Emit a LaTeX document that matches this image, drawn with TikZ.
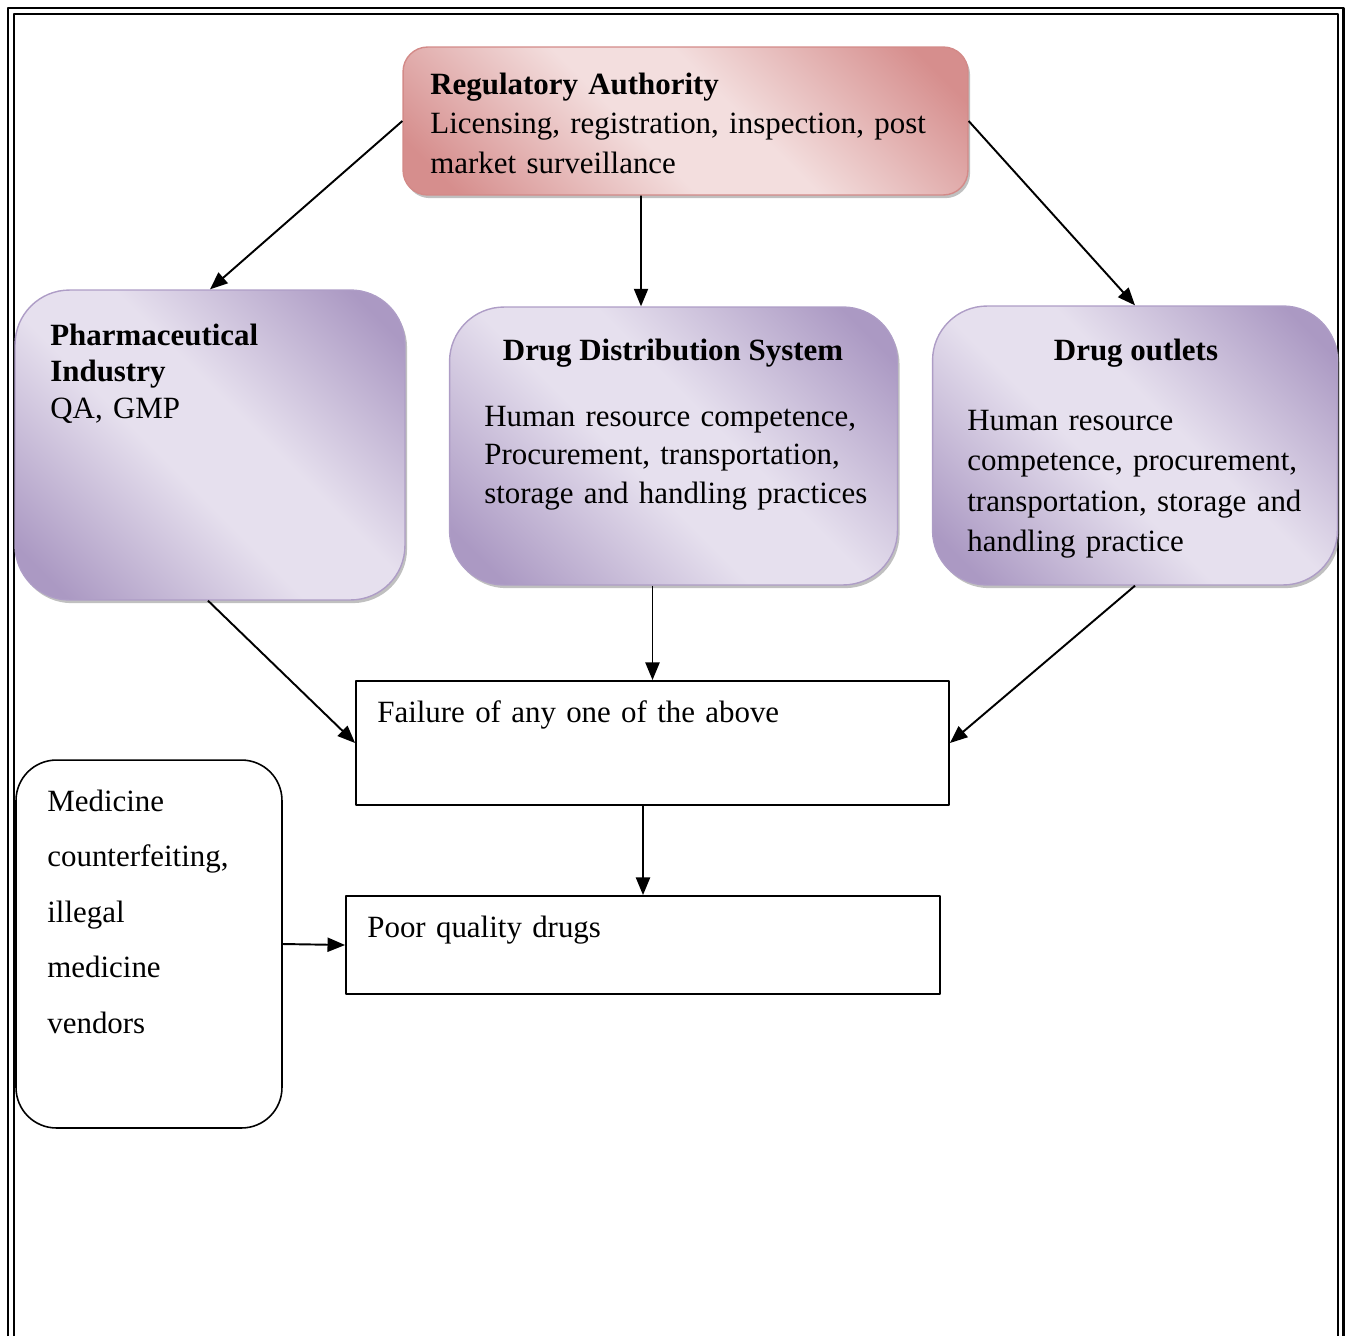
\documentclass[tikz,border=0pt]{standalone}
\usepackage{fontspec}
\setmainfont{Liberation Serif}
\usetikzlibrary{arrows.meta,shadows}
\definecolor{pinkdark}{HTML}{D68E8D}
\definecolor{pinklight}{HTML}{F3DEDE}
\definecolor{pinkline}{HTML}{D38A88}
\definecolor{purpdark}{HTML}{AB99C3}
\definecolor{purplight}{HTML}{E6E0EE}
\definecolor{purpline}{HTML}{AE9DC6}
\pgfdeclarehorizontalshading{pinkdiag}{100bp}{color(0bp)=(pinkdark); color(20bp)=(pinkdark); color(44bp)=(pinklight); color(56bp)=(pinklight); color(80bp)=(pinkdark); color(100bp)=(pinkdark)}
\pgfdeclarehorizontalshading{purpdiag}{100bp}{color(0bp)=(purpdark); color(20bp)=(purpdark); color(44bp)=(purplight); color(56bp)=(purplight); color(80bp)=(purpdark); color(100bp)=(purpdark)}
\begin{document}
\begin{tikzpicture}[x=.02cm,y=-.02cm,>={Triangle[length=10pt,width=8pt]},line join=round,
  font=\fontsize{17.6}{22.5}\selectfont,
  shade/.style={drop shadow={shadow xshift=1.2pt,shadow yshift=-1.8pt,fill=black!55,opacity=.45}},
  regbox/.style={shade,draw=pinkline,line width=.8pt,rounded corners=14pt,shading=pinkdiag,shading angle=45,inner sep=0pt},
  purpbox/.style={shade,draw=purpline,line width=.8pt,rounded corners=31pt,shading=purpdiag,shading angle=45,inner sep=0pt},
  plainbox/.style={draw,line width=1.1pt,inner sep=0pt},
  txt/.style={anchor=base west,inner sep=0pt,align=left,text width=#1},
  txt/.default=11cm,
  head/.style={anchor=base,inner sep=0pt,font=\fontsize{17.6}{22.5}\selectfont\bfseries}]
\useasboundingbox (0,0) rectangle (1351,1336);
% page frame, open at the bottom
\draw[line width=1.7pt] (8,1336)--(8,8)--(1343,8)--(1343,1336);
\draw[line width=1.2pt] (14,1336)--(14,14)--(1338,14)--(1338,1336);
% boxes
\node[regbox,minimum width=11.3cm,minimum height=2.96cm] (reg) at (685.5,121) {};
\node[purpbox,minimum width=7.8cm,minimum height=6.2cm] (pharma) at (210,445) {};
\node[purpbox,minimum width=8.96cm,minimum height=5.56cm] (dist) at (673.5,446) {};
\node[purpbox,minimum width=8.1cm,minimum height=5.58cm] (outl) at (1135,445.5) {};
\node[plainbox,minimum width=11.86cm,minimum height=2.48cm] (fail) at (652.5,743) {};
\node[plainbox,minimum width=11.88cm,minimum height=1.96cm] (poor) at (643,945) {};
\node[draw,line width=.9pt,rounded corners=23pt,inner sep=0pt,minimum width=5.32cm,minimum height=7.36cm] (med) at (149,944) {};
% texts
\node[txt] (regtxt) at (430,94) {\textbf{Regulatory Authority}\\Licensing, registration, inspection, post\\market surveillance};
\node[txt=7cm,font=\fontsize{17.6}{20.8}\selectfont] (pharmatxt) at (50,345) {\textbf{Pharmaceutical}\\\textbf{Industry}\\QA, GMP};
\node[head] (disthead) at (673,360) {Drug Distribution System};
\node[txt=8cm,font=\fontsize{17.6}{22}\selectfont] (disttxt) at (484,426) {Human resource competence,\\Procurement, transportation,\\storage and handling practices};
\node[head] (outlhead) at (1136,360) {Drug outlets};
\node[txt=7.5cm,font=\fontsize{17.6}{23.1}\selectfont] (outltxt) at (967,430) {Human resource\\competence, procurement,\\transportation, storage and\\handling practice};
\node[txt] (failtxt) at (377,722) {Failure of any one of the above};
\node[txt] (poortxt) at (367,937) {Poor quality drugs};
\node[txt=5cm,font=\fontsize{17.6}{31.6}\selectfont] (medtxt) at (47,811) {Medicine\\counterfeiting,\\illegal\\medicine\\vendors};
% connectors
\begin{scope}[line width=1.1pt]
\draw[->] (reg.west)--(pharma.north);
\draw[->] ([xshift=-.89cm]reg.south)--([xshift=-.65cm]dist.north);
\draw[->] (reg.east)--(outl.north);
\draw[->] ([xshift=-.04cm]pharma.south)--(fail.west);
\draw[->] (fail.north |- dist.south)--(fail.north);
\draw[->] (outl.south)--(fail.east);
\draw[->] (poor.north |- fail.south)--(poor.north);
\draw[->] (med.east)--(poor.west);
\end{scope}
\end{tikzpicture}
\end{document}
